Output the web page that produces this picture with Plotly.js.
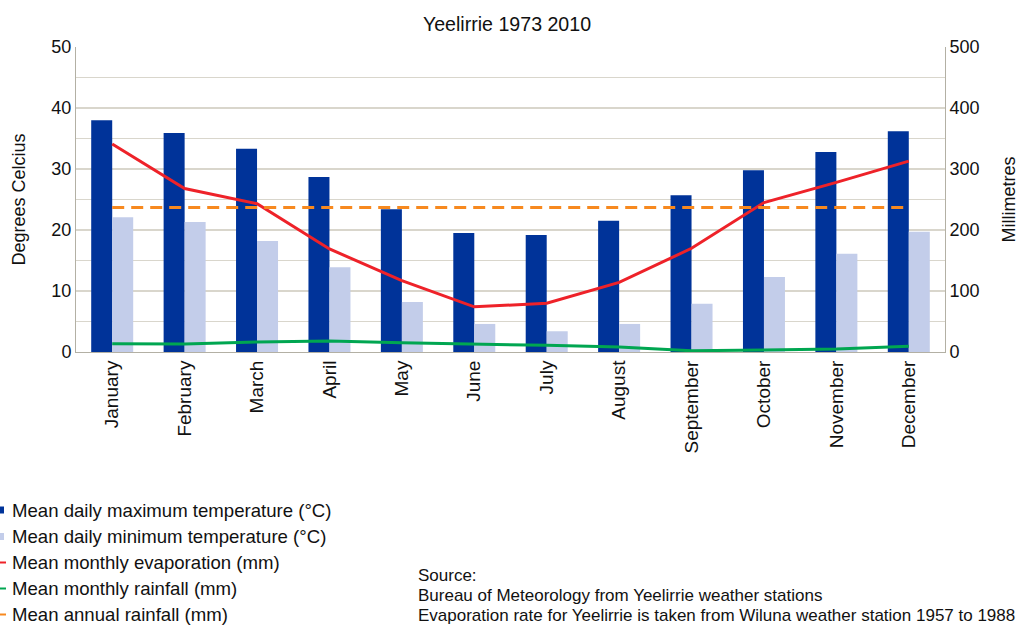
<!DOCTYPE html>
<html>
<head>
<meta charset="utf-8">
<script src="https://cdn.plot.ly/plotly-3.0.1.min.js"></script>
<style>html,body{margin:0;padding:0;background:#fff;}#chart{width:1019px;height:626px;}</style>
</head>
<body>
<div id="chart"></div>
<script>
var months = ["January","February","March","April","May","June","July","August","September","October","November","December"];
var maxTemp = [38.0, 35.9, 33.3, 28.7, 23.4, 19.5, 19.2, 21.5, 25.7, 29.8, 32.8, 36.2];
var minTemp = [22.1, 21.3, 18.2, 13.9, 8.2, 4.6, 3.4, 4.6, 7.9, 12.3, 16.1, 19.7];
var evaporation = [341, 268, 243, 169, 117, 74, 80, 114, 170, 245, 278, 313];
var monthlyRain = [13.6, 13, 16.4, 18, 15, 13.6, 11, 8.2, 2, 3.3, 4.9, 9.3];
var annualRainMean = 237;
var annualRain = months.map(function(){ return annualRainMean; });
var seriesNames = ["Mean daily maximum temperature (°C)","Mean daily minimum temperature (°C)","Mean monthly evaporation (mm)","Mean monthly rainfall (mm)","Mean annual rainfall (mm)"];
var seriesColors = ["#003399","#c3cdea","#ee2229","#00a651","#f7891f"];
var sourceLines = ["Source:","Bureau of Meteorology from Yeelirrie weather stations","Evaporation rate for Yeelirrie is taken from Wiluna weather station 1957 to 1988"];

var font = "Liberation Sans, Arial, sans-serif";

var traces = [
  {type:"bar", name:seriesNames[0], x:months, y:maxTemp, marker:{color:seriesColors[0]}, yaxis:"y"},
  {type:"bar", name:seriesNames[1], x:months, y:minTemp, marker:{color:seriesColors[1]}, yaxis:"y"},
  {type:"scatter", mode:"lines", name:seriesNames[2], x:months, y:evaporation, line:{color:seriesColors[2], width:3}, yaxis:"y2"},
  {type:"scatter", mode:"lines", name:seriesNames[3], x:months, y:monthlyRain, line:{color:seriesColors[3], width:3}, yaxis:"y2"},
  {type:"scatter", mode:"lines", name:seriesNames[4], x:months, y:annualRain, line:{color:seriesColors[4], width:3, dash:"12px,7px"}, yaxis:"y2"}
];

// pixel -> paper helpers (plot area: x 76..945, y 47..352)
function px(p){ return (p-76)/869; }
function py(p){ return (352-p)/305; }

var shapes = [];
var annotations = [];
var legendY = [510, 536.5, 562.5, 588.5, 614.5];
seriesNames.forEach(function(n, i){
  if (i < 2) {
    shapes.push({type:"rect", xref:"paper", yref:"paper", x0:px(-3), x1:px(4), y0:py(legendY[i]-3.5), y1:py(legendY[i]+3.5), fillcolor:seriesColors[i], line:{width:0}});
  } else {
    shapes.push({type:"line", xref:"paper", yref:"paper", x0:px(0), x1:px(6), y0:py(legendY[i]), y1:py(legendY[i]), line:{color:seriesColors[i], width:2}});
  }
  annotations.push({xref:"paper", yref:"paper", x:px(10), y:py(legendY[i]), xanchor:"left", yanchor:"middle", showarrow:false, text:n, font:{size:18.6}});
});
var srcY = [575, 595, 615];
sourceLines.forEach(function(t, i){
  annotations.push({xref:"paper", yref:"paper", x:px(416), y:py(srcY[i]), xanchor:"left", yanchor:"middle", showarrow:false, text:t, font:{size:17}});
});

var layout = {
  width:1019, height:626,
  margin:{l:76, r:74, t:47, b:274, pad:0},
  paper_bgcolor:"#ffffff", plot_bgcolor:"#ffffff",
  font:{family:font, size:18, color:"#111111"},
  title:{text:"Yeelirrie 1973 2010", font:{family:font, size:19.6, color:"#111111"}, x:(507-76)/869, xref:"paper", xanchor:"center", y:1-31/626, yref:"container", yanchor:"bottom", pad:{b:0}},
  barmode:"group", bargap:0.42, bargroupgap:0,
  xaxis:{type:"category", range:[-0.5,11.5], tickangle:-90, showgrid:false, showline:true, linecolor:"#b3b0a4", linewidth:1, ticks:"", tickfont:{size:19}, fixedrange:true},
  yaxis:{range:[0,50], dtick:10, showgrid:true, gridcolor:"#d9d6cc", gridwidth:1.5,
         minor:{dtick:5, showgrid:true, gridcolor:"#d9d6cc", gridwidth:1.5},
         showline:true, linecolor:"#b3b0a4", linewidth:1, ticks:"", zeroline:false,
         title:{text:"Degrees Celcius", font:{size:18}, standoff:21}, tickfont:{size:18}},
  yaxis2:{range:[0,500], dtick:100, overlaying:"y", side:"right", showgrid:false, showline:true, linecolor:"#b3b0a4", linewidth:1, ticks:"", zeroline:false,
         title:{text:"Millimetres", font:{size:18}, standoff:27}, tickfont:{size:18}},
  showlegend:false,
  shapes:shapes,
  annotations:annotations
};

Plotly.newPlot("chart", traces, layout, {displayModeBar:false, staticPlot:true});
</script>
</body>
</html>
